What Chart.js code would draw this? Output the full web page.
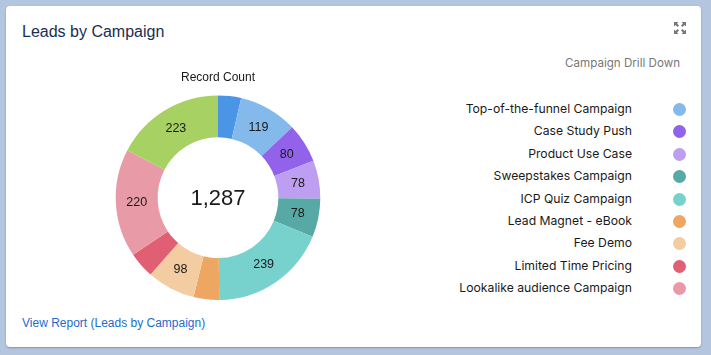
<!DOCTYPE html>
<html>
<head>
<meta charset="utf-8">
<script src="https://cdn.jsdelivr.net/npm/chart.js@4.4.0/dist/chart.umd.min.js"></script>
<style>
	html, body { margin: 0; padding: 0; }
	body { width: 711px; height: 355px; background: #b3c5df; position: relative; overflow: hidden; font-family: 'Liberation Sans', Arial, sans-serif; }
	.card { position: absolute; left: 6px; top: 6px; width: 695px; height: 341px; background: #fff; border-radius: 4px; box-shadow: 0 1px 2px rgba(0,0,0,0.25); }
	.title { position: absolute; left: 16px; top: 17px; font-size: 16px; color: #1a2d52; }
	.icon { position: absolute; left: 668px; top: 16px; }
	.drill { position: absolute; right: 21px; top: 50px; font-family: Inter, sans-serif; font-size: 11.6px; color: #777; }
	.chartBox { position: absolute; left: 102px; top: 61px; width: 220px; height: 233px; }
	.legend { position: absolute; left: 400px; top: 92px; width: 280px; font-family: Inter, sans-serif; font-size: 12.2px; color: #1a1a1a; }
	.legend div { position: relative; height: 22.4px; line-height: 22.4px; text-align: right; padding-right: 54px; }
	.legend span { position: absolute; right: 0; top: 5px; width: 13px; height: 13px; border-radius: 50%; }
	.link { position: absolute; left: 16px; top: 310px; font-size: 12px; color: #1b6ccc; }
</style>
</head>
<body>
<div class="card">
	<div class="title">Leads by Campaign</div>
	<svg class="icon" width="12" height="12" viewBox="0 0 12 12" fill="#777">
		<path d="M0 0h4.5L3 1.5 5 3.5 3.5 5 1.5 3 0 4.5z"/>
		<path d="M12 0v4.5L10.5 3 8.5 5 7 3.5 9 1.5 7.5 0z"/>
		<path d="M0 12V7.5L1.5 9 3.5 7 5 8.5 3 10.5 4.5 12z"/>
		<path d="M12 12H7.5L9 10.5 7 8.5 8.5 7 10.5 9 12 7.5z"/>
	</svg>
	<div class="drill">Campaign Drill Down</div>
	<div class="chartBox"><canvas id="leadsChart"></canvas></div>
	<div class="legend" id="legend"></div>
	<div class="link">View Report (Leads by Campaign)</div>
</div>
<script>
// campaigns, clockwise from 12 o'clock (first and last are not shown in the visible legend)
let campaigns = [
	'Webinar Campaign',
	'Top-of-the-funnel Campaign',
	'Case Study Push',
	'Product Use Case',
	'Sweepstakes Campaign',
	'ICP Quiz Campaign',
	'Lead Magnet - eBook',
	'Fee Demo',
	'Limited Time Pricing',
	'Lookalike audience Campaign',
	'Referral Campaign',
];
let recordCount = [47, 119, 80, 78, 78, 239, 52, 98, 53, 220, 223];
let colors = [
	'#4b95e6', '#84b9eb', '#9263ea', '#bd9ef1', '#56a9a4', '#77d2ce',
	'#eda762', '#f3cca2', '#e15f73', '#e89ba6', '#a8d164',
];
let legendShown = [1, 2, 3, 4, 5, 6, 7, 8, 9];

let total = recordCount.reduce((a, b) => a + b, 0);

// draw values on segments and the total in the middle
const labelsPlugin = {
	id: 'segmentLabels',
	afterDatasetsDraw(chart) {
		let ctx = chart.ctx;
		let meta = chart.getDatasetMeta(0);
		ctx.save();
		ctx.textAlign = 'center';
		ctx.textBaseline = 'middle';
		ctx.fillStyle = '#1a1a1a';
		ctx.font = '12.5px "Liberation Sans", Arial, sans-serif';
		meta.data.forEach((arc, i) => {
			if (recordCount[i] < 60) return;
			let p = arc.tooltipPosition();
			ctx.fillText(recordCount[i].toLocaleString('en-US'), p.x, p.y);
		});
		let c = meta.data[0];
		ctx.font = '22px "Liberation Sans", Arial, sans-serif';
		ctx.fillText(total.toLocaleString('en-US'), c.x, c.y + 1);
		ctx.restore();
	},
};

let chart = new Chart(document.getElementById('leadsChart'), {
	type: 'doughnut',
	data: {
		labels: campaigns,
		datasets: [
			{
				label: 'Record Count',
				data: recordCount,
				backgroundColor: colors,
				borderWidth: 0,
			},
		],
	},
	options: {
		responsive: true,
		maintainAspectRatio: false,
		animation: false,
		cutout: '59%',
		layout: { padding: 0 },
		plugins: {
			legend: { display: false },
			tooltip: { enabled: false },
			title: {
				display: true,
				text: 'Record Count',
				color: '#1a1a1a',
				font: { family: 'Liberation Sans', size: 12, weight: 'normal' },
				padding: { top: 3, bottom: 11 },
			},
		},
	},
	plugins: [labelsPlugin],
});

// html legend on the right
let legend = document.getElementById('legend');
legendShown.forEach((i) => {
	let row = document.createElement('div');
	row.textContent = campaigns[i];
	let dot = document.createElement('span');
	dot.style.background = colors[i];
	row.appendChild(dot);
	legend.appendChild(row);
});
</script>
</body>
</html>
